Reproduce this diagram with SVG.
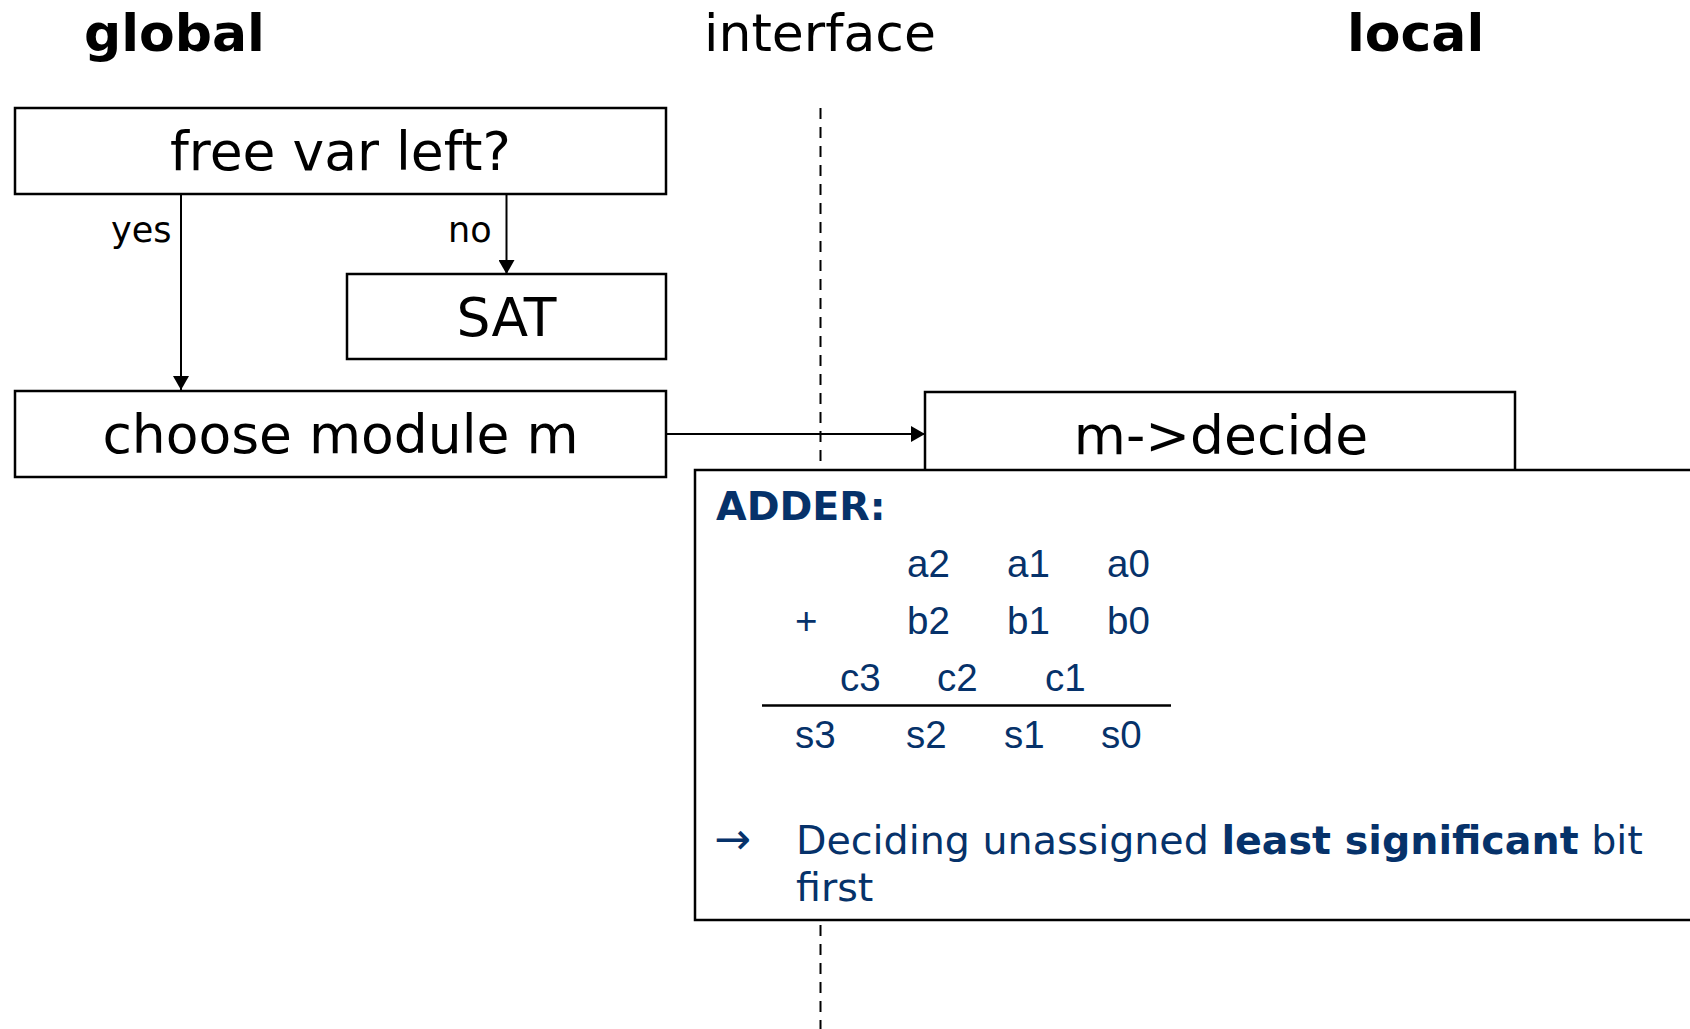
<svg xmlns="http://www.w3.org/2000/svg" width="1690" height="1029" viewBox="0 0 1690 1029">
<style>
.box{fill:#fff;stroke:#000;stroke-width:2.5}
.lbl{font-family:"DejaVu Sans",Verdana,sans-serif;font-size:53.5px;fill:#000;text-anchor:middle}
.hdr{font-family:"DejaVu Sans",Verdana,sans-serif;font-size:52px;fill:#000}
.edge{font-family:"DejaVu Sans",Verdana,sans-serif;font-size:35px;fill:#000}
.con{stroke:#000;stroke-width:2;fill:none}
.nv{fill:#06326a}
.ar{font-family:"Liberation Sans",Arial,sans-serif;font-size:38.5px}
.dv{font-family:"DejaVu Sans",Verdana,sans-serif;font-size:39.6px}
</style>
<defs>
<marker id="ah" viewBox="0 0 14 16" refX="14" refY="8" markerWidth="14" markerHeight="16" markerUnits="userSpaceOnUse" orient="auto">
<path d="M0,0 L14,8 L0,16 Z" fill="#000"/>
</marker>
</defs>
<rect width="1690" height="1029" fill="#fff"/>
<g id="headers">
<text class="hdr" x="84" y="51" font-weight="bold">global</text>
<text class="hdr" x="704" y="51">interface</text>
<text class="hdr" x="1347" y="51" font-weight="bold">local</text>
</g>
<line id="interface-line" x1="820.5" y1="108" x2="820.5" y2="1029" stroke="#000" stroke-width="2" stroke-dasharray="11 8"/>
<g id="connectors">
<line class="con" x1="181" y1="194" x2="181" y2="390" marker-end="url(#ah)"/>
<line class="con" x1="506.5" y1="194" x2="506.5" y2="274" marker-end="url(#ah)"/>
<line class="con" x1="666" y1="434" x2="925" y2="434" marker-end="url(#ah)"/>
<text class="edge" x="111" y="242">yes</text>
<text class="edge" x="448" y="242">no</text>
</g>
<g id="free-var">
<rect class="box" x="15" y="108" width="651" height="86"/>
<text class="lbl" x="340.5" y="170">free var left?</text>
</g>
<g id="sat">
<rect class="box" x="347" y="274" width="319" height="85"/>
<text class="lbl" x="506.5" y="336">SAT</text>
</g>
<g id="choose">
<rect class="box" x="15" y="391" width="651" height="86"/>
<text class="lbl" x="340.5" y="453">choose module m</text>
</g>
<g id="decide">
<rect class="box" x="925" y="392" width="590" height="100"/>
<text class="lbl" x="1221" y="454">m-&gt;decide</text>
</g>
<g id="adder">
<rect class="box" x="695" y="470" width="1010" height="450"/>
<text class="nv dv" x="716" y="520" font-weight="bold">ADDER:</text>
<g class="nv ar">
<text x="907" y="577">a2</text><text x="1007" y="577">a1</text><text x="1107" y="577">a0</text>
<text x="795" y="634">+</text><text x="907" y="634">b2</text><text x="1007" y="634">b1</text><text x="1107" y="634">b0</text>
<text x="840" y="691">c3</text><text x="937" y="691">c2</text><text x="1045" y="691">c1</text>
<text x="795" y="748">s3</text><text x="906" y="748">s2</text><text x="1004" y="748">s1</text><text x="1101" y="748">s0</text>
</g>
<line x1="762" y1="705.5" x2="1171" y2="705.5" stroke="#000" stroke-width="2.5"/>
<text class="nv" x="714" y="854" font-family="Noto Sans, DejaVu Sans, sans-serif" font-size="44">→</text>
<text class="nv dv" x="796" y="854">Deciding unassigned <tspan font-weight="bold">least significant</tspan> bit</text>
<text class="nv dv" x="796" y="901">first</text>
</g>
</svg>
